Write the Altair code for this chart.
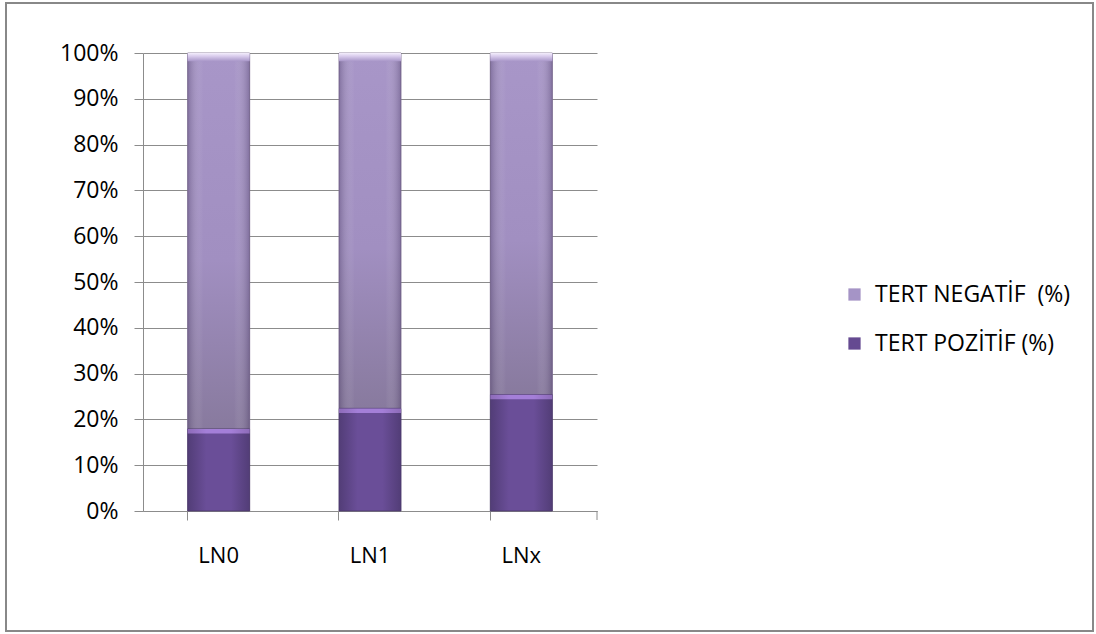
import altair as alt
import pandas as pd

# Share of TERT-positive cases per lymph-node group (%)
groups = ["LN0", "LN1", "LNx"]
tert_pozitif = [17.9, 22.4, 25.4]
tert_negatif = [100 - v for v in tert_pozitif]

NEG = "TERT NEGATİF\u00a0 (%)"
POZ = "TERT POZİTİF (%)"

rows = []
for g, p, n in zip(groups, tert_pozitif, tert_negatif):
    rows.append({"grup": g, "seri": POZ, "deger": p, "bas": 0.0, "son": p})
    rows.append({"grup": g, "seri": NEG, "deger": n, "bas": p, "son": p + n})
df = pd.DataFrame(rows)

W, H = 454, 458
FONT = "Open Sans"
GRID = "#8c8c8c"

x_enc = alt.X(
    "grup:N",
    sort=groups,
    scale=alt.Scale(paddingInner=0.59, paddingOuter=0.295),
    axis=alt.Axis(
        title=None, labelAngle=0, bandPosition=0, tickSize=9, tickColor=GRID,
        domainColor=GRID, labelFontSize=22, labelFont=FONT, labelColor="#000000",
        labelPadding=25, grid=False,
    ),
)
y_scale = alt.Scale(domain=[0, 100], nice=False)
y_axis = alt.Axis(
    title=None, values=list(range(0, 101, 10)), labelExpr="datum.value + '%'",
    tickSize=9, tickColor=GRID, domainColor=GRID, gridColor=GRID, grid=True,
    labelFontSize=23, labelFont=FONT, labelColor="#000000", labelPadding=16,
)

base = alt.Chart(df)

bars = base.mark_bar().encode(
    x=x_enc,
    y=alt.Y("bas:Q", scale=y_scale, axis=y_axis),
    y2="son:Q",
    color=alt.Color(
        "seri:N",
        scale=alt.Scale(domain=[NEG, POZ], range=["#a594c6", "#654a91"]),
        legend=alt.Legend(
            title=None, orient="none", legendX=700, legendY=230,
            symbolType="square", symbolSize=150, symbolStrokeWidth=0,
            labelFontSize=23, labelFont=FONT, labelColor="#000000",
            labelLimit=400, rowPadding=25, labelOffset=9,
        ),
    ),
)


def hgrad(edge, mid):
    return alt.Gradient(
        gradient="linear", x1=0, x2=1, y1=0, y2=0,
        stops=[
            alt.GradientStop(color=edge, offset=0),
            alt.GradientStop(color=mid, offset=0.3),
            alt.GradientStop(color=mid, offset=0.7),
            alt.GradientStop(color=edge, offset=1),
        ],
    )


neg_fill = base.transform_filter(alt.datum.seri == NEG).mark_bar(
    color=alt.Gradient(
        gradient="linear", x1=0, x2=0, y1=0, y2=1,
        stops=[
            alt.GradientStop(color="#a896c8", offset=0),
            alt.GradientStop(color="#a18fc1", offset=0.55),
            alt.GradientStop(color="#887a9e", offset=1),
        ],
    ),
    stroke="#7d6f90", strokeWidth=0.8,
).encode(x=x_enc, y=alt.Y("bas:Q", scale=y_scale), y2="son:Q")

# darker side edges on the upper segments
neg_shade = base.transform_filter(alt.datum.seri == NEG).mark_bar(
    color=alt.Gradient(
        gradient="linear", x1=0, x2=1, y1=0, y2=0,
        stops=[
            alt.GradientStop(color="rgba(60,45,85,0.35)", offset=0),
            alt.GradientStop(color="rgba(255,255,255,0)", offset=0.25),
            alt.GradientStop(color="rgba(255,255,255,0)", offset=0.75),
            alt.GradientStop(color="rgba(60,45,85,0.35)", offset=1),
        ],
    ),
).encode(x=x_enc, y=alt.Y("bas:Q", scale=y_scale), y2="son:Q")

poz_fill = base.transform_filter(alt.datum.seri == POZ).mark_bar(
    color=hgrad("#523d77", "#6a4e98"), stroke="#4a3868", strokeWidth=0.8,
).encode(x=x_enc, y=alt.Y("bas:Q", scale=y_scale), y2="son:Q")

# light bevel along the top edge of each segment
poz_top = base.transform_filter(alt.datum.seri == POZ).transform_calculate(
    t0="datum.son - 1.0"
).mark_bar(color=hgrad("#8d6bb8", "#a47fd8")).encode(
    x=x_enc, y=alt.Y("t0:Q", scale=y_scale), y2="son:Q"
)
neg_top = base.transform_filter(alt.datum.seri == NEG).transform_calculate(
    t0="datum.son - 1.8"
).mark_bar(
    color=alt.Gradient(
        gradient="linear", x1=0, x2=0, y1=0, y2=1,
        stops=[
            alt.GradientStop(color="#f3edfb", offset=0),
            alt.GradientStop(color="#d8cbec", offset=0.4),
            alt.GradientStop(color="#a896c8", offset=1),
        ],
    )
).encode(x=x_enc, y=alt.Y("t0:Q", scale=y_scale), y2="son:Q")

# closing tick at the right end of the category axis
end_tick = alt.Chart(pd.DataFrame({"k": [0]})).mark_rule(color=GRID).encode(
    x=alt.value(W), y=alt.value(H), y2=alt.value(H + 9)
)

# outer frame around the whole chart
frame = alt.Chart(pd.DataFrame({"k": [0]})).mark_rect(
    fill=None, stroke="#888888", strokeWidth=2
).encode(
    x=alt.value(-137), x2=alt.value(950), y=alt.value(-50), y2=alt.value(578)
)

chart = alt.layer(
    bars, neg_fill, neg_shade, poz_fill, poz_top, neg_top, end_tick, frame
).properties(
    width=W, height=H,
    autosize=alt.AutoSizeParams(type="none"),
    padding={"left": 143, "top": 53, "right": 499, "bottom": 123},
    background="#ffffff",
).configure_view(stroke=None)

chart.save("out.html", embed_options={"renderer": "svg", "actions": False})
